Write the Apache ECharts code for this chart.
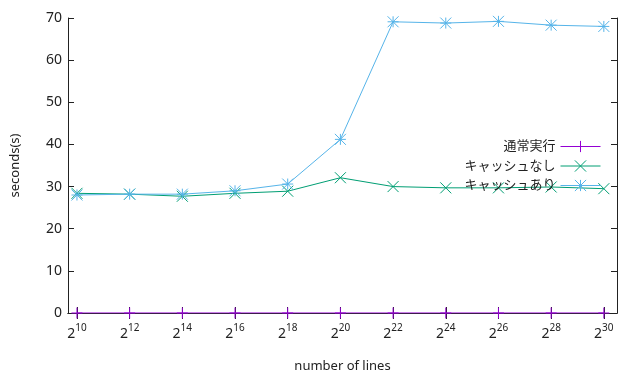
<!DOCTYPE html>
<html>
<head>
<meta charset="utf-8">
<script src="https://cdn.jsdelivr.net/npm/echarts@6/dist/echarts.min.js"></script>
<style>
  html, body { margin: 0; padding: 0; background: #fff; }
  #main { width: 627px; height: 371px; }
</style>
</head>
<body>
<div id="main"></div>
<script>
// exponents of 2 (number of lines)
var exponents = [10, 12, 14, 16, 18, 20, 22, 24, 26, 28, 30];
var normalRun = [0, 0, 0, 0, 0, 0, 0, 0, 0, 0, 0];
var noCache = [28.4, 28.2, 27.7, 28.4, 28.9, 32.1, 30.0, 29.7, 29.7, 29.9, 29.5];
var withCache = [28.0, 28.2, 28.2, 29.0, 30.6, 41.2, 69.1, 68.8, 69.2, 68.3, 68.0];

var FONT = '"Noto Sans", "Noto Sans CJK JP", sans-serif';
var plusPath = 'path://M5 0L5 10M0 5L10 5';
var crossPath = 'path://M0 0L10 10M10 0L0 10';
var starPath = 'path://M5 0L5 10M0 5L10 5M0 0L10 10M10 0L0 10';

function pairs(vals) {
  return exponents.map(function (e, i) { return [e, vals[i]]; });
}

function mkSeries(name, vals, color, sym) {
  return {
    name: name,
    type: 'line',
    data: pairs(vals),
    symbol: sym,
    symbolSize: 11,
    showAllSymbol: true,
    color: color,
    lineStyle: { color: color, width: 1 },
    itemStyle: { color: 'rgba(0,0,0,0)', borderColor: color, borderWidth: 1 },
    emphasis: { disabled: true },
    animation: false
  };
}

var chart = echarts.init(document.getElementById('main'), null, { renderer: 'canvas' });

var option = {
  backgroundColor: '#fff',
  animation: false,
  grid: { left: 68, right: 10, top: 18, bottom: 58, outerBoundsMode: 'none', containLabel: false },
  legend: {
    orient: 'vertical',
    right: 21,
    top: 135,
    align: 'right',
    itemWidth: 40,
    itemHeight: 14,
    itemGap: 6.5,
    itemStyle: { borderWidth: 1 },
    lineStyle: { width: 1 },
    textStyle: { fontFamily: FONT, fontSize: 13, color: '#222' },
    data: ['通常実行', 'キャッシュなし', 'キャッシュあり']
  },
  xAxis: [{
    type: 'value',
    min: 9.66,
    max: 30.5,
    name: 'number of lines',
    nameLocation: 'middle',
    nameGap: 47,
    nameTextStyle: { fontFamily: FONT, fontSize: 13, color: '#222' },
    splitLine: { show: false },
    axisLine: { show: true, lineStyle: { color: '#222', width: 1 } },
    axisTick: { show: true, inside: true, length: 6, customValues: exponents, lineStyle: { color: '#222' } },
    axisLabel: {
      customValues: exponents,
      margin: 10,
      formatter: function (v) { return '{b|2}{s|' + v + '}'; },
      rich: {
        b: { fontFamily: FONT, fontSize: 14, color: '#222', verticalAlign: 'bottom' },
        s: { fontFamily: FONT, fontSize: 10, color: '#222', verticalAlign: 'top', padding: [0, 0, 8, 0] }
      }
    }
  }, {
    type: 'value',
    position: 'top',
    min: 9.66,
    max: 30.5,
    splitLine: { show: false },
    axisLine: { show: true, lineStyle: { color: '#222', width: 1 } },
    axisTick: { show: true, inside: true, length: 6, customValues: exponents, lineStyle: { color: '#222' } },
    axisLabel: { show: false }
  }],
  yAxis: [{
    type: 'value',
    min: 0,
    max: 70,
    interval: 10,
    name: 'seconds(s)',
    nameLocation: 'middle',
    nameGap: 46,
    nameTextStyle: { fontFamily: FONT, fontSize: 13, color: '#222' },
    splitLine: { show: false },
    axisLine: { show: true, lineStyle: { color: '#222', width: 1 } },
    axisTick: { show: true, inside: true, length: 6, lineStyle: { color: '#222' } },
    axisLabel: { fontFamily: FONT, fontSize: 14, color: '#222', margin: 6 }
  }, {
    type: 'value',
    position: 'right',
    min: 0,
    max: 70,
    interval: 10,
    splitLine: { show: false },
    axisLine: { show: true, lineStyle: { color: '#222', width: 1 } },
    axisTick: { show: true, inside: true, length: 6, lineStyle: { color: '#222' } },
    axisLabel: { show: false }
  }],
  series: [
    mkSeries('通常実行', normalRun, '#9400d3', plusPath),
    mkSeries('キャッシュなし', noCache, '#009e73', crossPath),
    mkSeries('キャッシュあり', withCache, '#56b4e9', starPath)
  ]
};

chart.setOption(option);
</script>
</body>
</html>
